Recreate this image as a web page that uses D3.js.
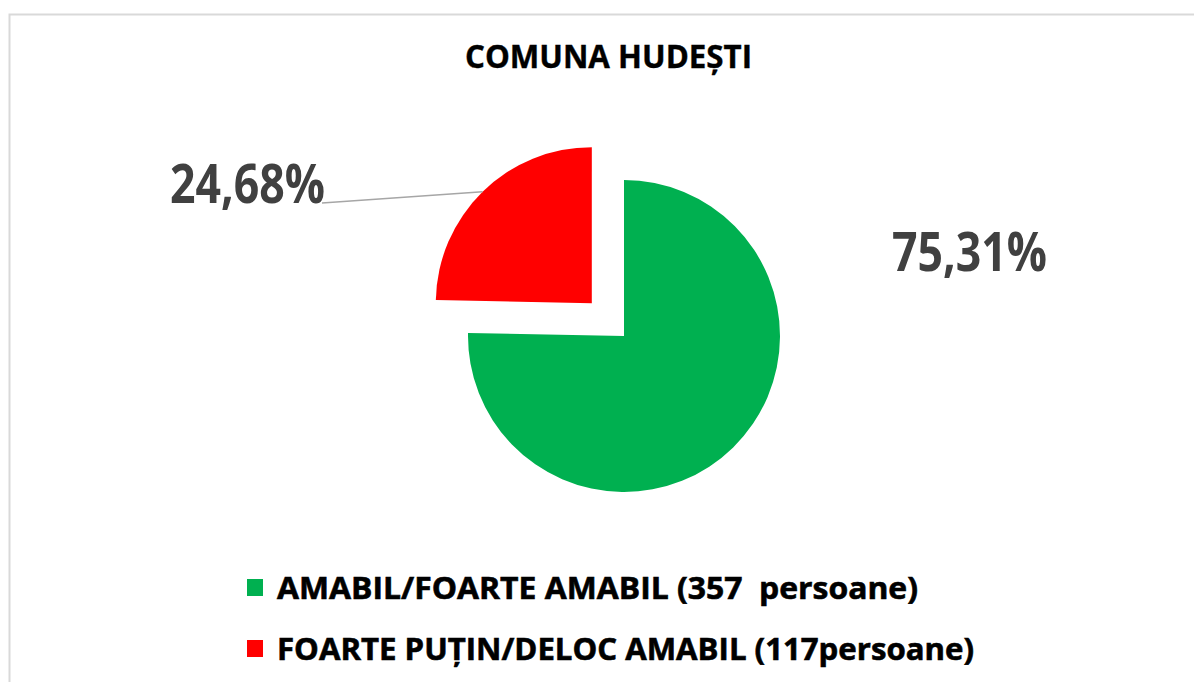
<!DOCTYPE html>
<html>
<head>
<meta charset="utf-8">
<script src="https://cdn.jsdelivr.net/npm/d3@7"></script>
<style>
  html, body { margin: 0; padding: 0; background: #fff; }
  svg { display: block; }
  text { font-family: "Open Sans", "Noto Sans", sans-serif; font-weight: 700; white-space: pre; }
</style>
</head>
<body>
<svg id="chart" width="1194" height="682"></svg>
<script>
// ---- data ----
const title = "COMUNA HUDEȘTI";
const categories = ["AMABIL/FOARTE AMABIL (357  persoane)", "FOARTE PUȚIN/DELOC AMABIL (117persoane)"];
const values = [357, 117];
const percentLabels = ["75,31%", "24,68%"];
const colors = ["#00b050", "#ff0000"];
const explode = [0, 46];

// ---- layout ----
const W = 1194, H = 682;
const cx = 624, cy = 336, R = 156;
const svg = d3.select("#chart");

svg.append("rect")
  .attr("x", 9.5).attr("y", 14.5)
  .attr("width", 1210).attr("height", 700)
  .attr("fill", "#fff").attr("stroke", "#d9d9d9").attr("stroke-width", 2);

// title
svg.append("text")
  .attr("x", 465).attr("y", 68)
  .attr("font-size", 32)
  .attr("textLength", 287).attr("lengthAdjust", "spacingAndGlyphs")
  .attr("fill", "#000")
  .attr("stroke", "#000").attr("stroke-width", 0.4)
  .text(title);

const pie = d3.pie().sort(null).value(d => d)(values);
const arc = d3.arc().innerRadius(0).outerRadius(R);

function offsetOf(d, i) {
  const mid = (d.startAngle + d.endAngle) / 2;
  return [Math.sin(mid) * explode[i], -Math.cos(mid) * explode[i]];
}

const g = svg.append("g").attr("transform", `translate(${cx},${cy})`);
g.selectAll("path.slice")
  .data(pie)
  .join("path")
  .attr("class", "slice")
  .attr("d", arc)
  .attr("fill", (d, i) => colors[i])
  .attr("transform", (d, i) => { const o = offsetOf(d, i); return `translate(${o[0]},${o[1]})`; });

// leader line for red slice
{
  const d = pie[1];
  const o = offsetOf(d, 1);
  const mid = (d.startAngle + d.endAngle) / 2;
  const ex = cx + o[0] + Math.sin(mid) * R;
  const ey = cy + o[1] - Math.cos(mid) * R;
  svg.append("line")
    .attr("x1", 322).attr("y1", 203)
    .attr("x2", ex).attr("y2", ey)
    .attr("stroke", "#a6a6a6").attr("stroke-width", 1.5);
}

// percent labels
const labelPos = [
  { x: 892, y: 271, w: 155 },
  { x: 170, y: 203, w: 155 }
];
svg.selectAll("text.pct")
  .data(percentLabels)
  .join("text")
  .attr("class", "pct")
  .attr("x", (d, i) => labelPos[i].x)
  .attr("y", (d, i) => labelPos[i].y)
  .attr("font-size", 54)
  .attr("textLength", (d, i) => labelPos[i].w)
  .attr("lengthAdjust", "spacingAndGlyphs")
  .attr("fill", "#404040")
  .text(d => d);

// legend
const legendRows = [
  { y: 599, w: 641 },
  { y: 660, w: 697 }
];
const lg = svg.append("g");
lg.selectAll("rect.sw")
  .data(categories)
  .join("rect")
  .attr("class", "sw")
  .attr("x", 247)
  .attr("y", (d, i) => legendRows[i].y - 20)
  .attr("width", 16).attr("height", 17)
  .attr("fill", (d, i) => colors[i]);
lg.selectAll("text.lt")
  .data(categories)
  .join("text")
  .attr("class", "lt")
  .attr("x", 277)
  .attr("y", (d, i) => legendRows[i].y)
  .attr("font-size", 31)
  .attr("textLength", (d, i) => legendRows[i].w)
  .attr("lengthAdjust", "spacingAndGlyphs")
  .attr("fill", "#000")
  .attr("stroke", "#000").attr("stroke-width", 0.6)
  .text(d => d);
</script>
</body>
</html>
